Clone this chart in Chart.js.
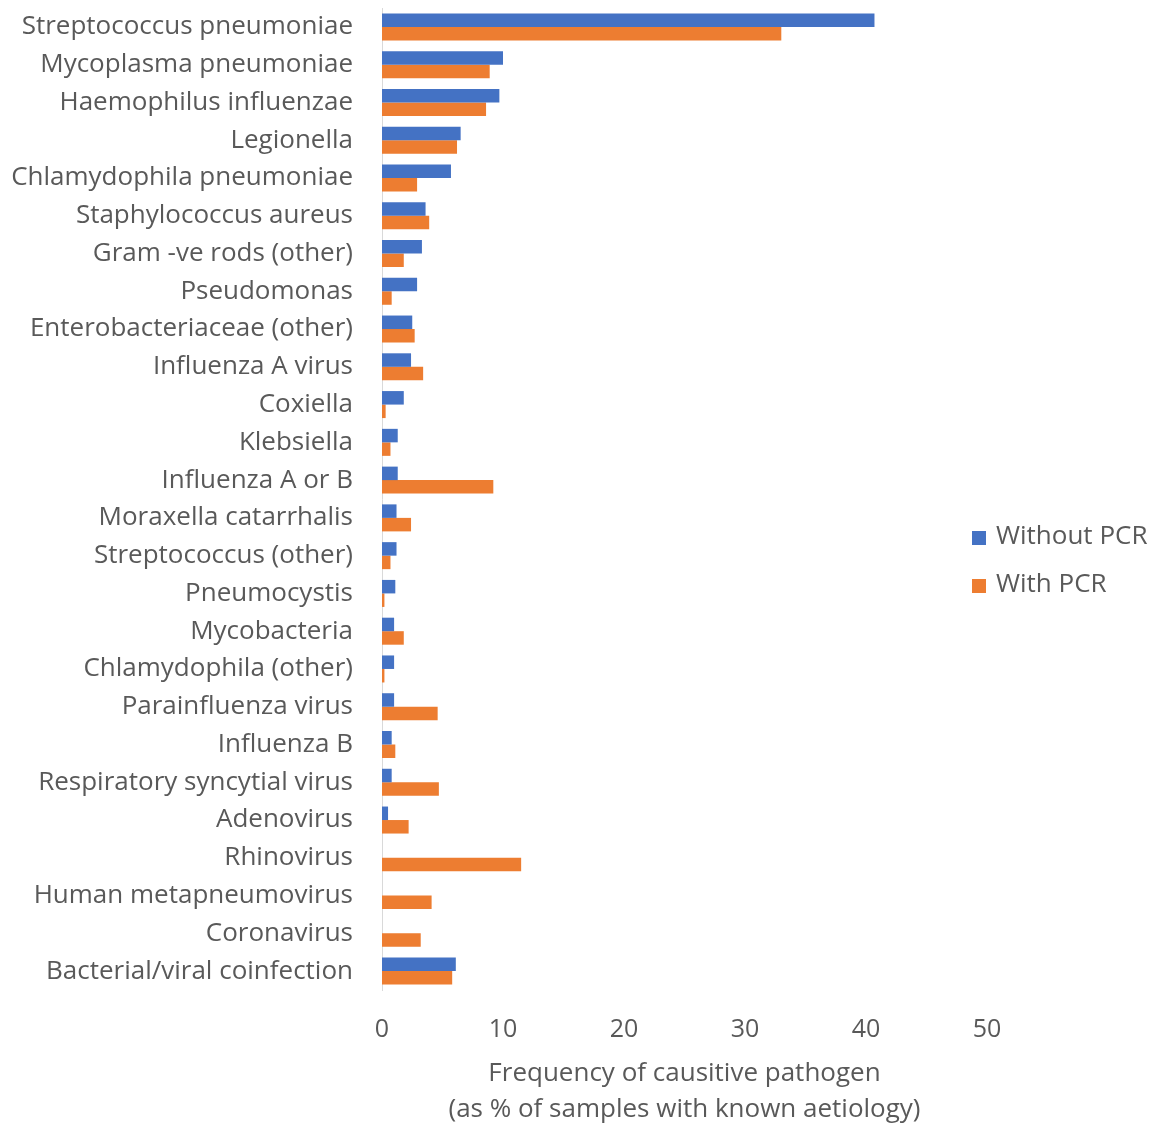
<!DOCTYPE html>
<html>
<head>
<meta charset="utf-8">
<script src="https://cdn.jsdelivr.net/npm/chart.js@4/dist/chart.umd.min.js"></script>
<style>
  html, body { margin: 0; padding: 0; background: #ffffff; }
  #wrap { position: relative; width: 1168px; height: 1124px; }
</style>
</head>
<body>
<div id="wrap"><canvas id="chart" width="1168" height="1124"></canvas></div>
<script>
// Causative pathogens, top to bottom
const pathogens = [
  'Streptococcus pneumoniae',
  'Mycoplasma pneumoniae',
  'Haemophilus influenzae',
  'Legionella',
  'Chlamydophila pneumoniae',
  'Staphylococcus aureus',
  'Gram -ve rods (other)',
  'Pseudomonas',
  'Enterobacteriaceae (other)',
  'Influenza A virus',
  'Coxiella',
  'Klebsiella',
  'Influenza A or B',
  'Moraxella catarrhalis',
  'Streptococcus (other)',
  'Pneumocystis',
  'Mycobacteria',
  'Chlamydophila (other)',
  'Parainfluenza virus',
  'Influenza B',
  'Respiratory syncytial virus',
  'Adenovirus',
  'Rhinovirus',
  'Human metapneumovirus',
  'Coronavirus',
  'Bacterial/viral coinfection'
];

// Frequency (% of samples with known aetiology)
const withoutPCR = [40.7, 10.0, 9.7, 6.5, 5.7, 3.6, 3.3, 2.9, 2.5, 2.4, 1.8, 1.3, 1.3, 1.2, 1.2, 1.1, 1.0, 1.0, 1.0, 0.8, 0.8, 0.5, 0, 0, 0, 6.1];
const withPCR    = [33.0, 8.9, 8.6, 6.2, 2.9, 3.9, 1.8, 0.8, 2.7, 3.4, 0.3, 0.7, 9.2, 2.4, 0.7, 0.2, 1.8, 0.2, 4.6, 1.1, 4.7, 2.2, 11.5, 4.1, 3.2, 5.8];

const seriesNames = ['Without PCR', 'With PCR'];
const seriesColors = ['#4472C4', '#ED7D31'];

const xTicks = [0, 10, 20, 30, 40, 50];
const xTitle = ['Frequency of causitive pathogen', '(as % of samples with known aetiology)'];

const FONT = '"Open Sans", Lato, sans-serif';
const FONT_SIZE = 26;
const TICK_SIZE = 25;
const TEXT = '#595959';

// Legend drawn to the right of the plot
const sideLegend = {
  id: 'sideLegend',
  afterDraw(chart) {
    const { ctx, chartArea } = chart;
    const midY = (chartArea.top + chartArea.bottom) / 2 + 62;
    const x = chartArea.right - 15;
    const rowGap = 48;
    const box = 14;
    ctx.save();
    ctx.font = FONT_SIZE + 'px ' + FONT;
    ctx.textBaseline = 'middle';
    ctx.textAlign = 'left';
    seriesNames.forEach((name, i) => {
      const y = midY + (i - 0.5) * rowGap;
      ctx.fillStyle = seriesColors[i];
      ctx.fillRect(x, y - box / 2 + 1, box, box);
      ctx.fillStyle = TEXT;
      ctx.fillText(name, x + box + 10, y);
    });
    ctx.restore();
  }
};

new Chart(document.getElementById('chart'), {
  type: 'bar',
  data: {
    labels: pathogens,
    datasets: [
      { label: seriesNames[0], data: withoutPCR, backgroundColor: seriesColors[0] },
      { label: seriesNames[1], data: withPCR, backgroundColor: seriesColors[1] }
    ]
  },
  options: {
    indexAxis: 'y',
    responsive: false,
    animation: false,
    devicePixelRatio: 1,
    categoryPercentage: 0.715,
    barPercentage: 1.0,
    layout: { padding: { top: 8, right: 181, left: 0, bottom: 0 } },
    plugins: {
      legend: { display: false },
      tooltip: { enabled: false }
    },
    scales: {
      y: {
        grid: { display: false, drawTicks: false },
        border: { display: true, color: '#D9D9D9', width: 1 },
        ticks: { color: TEXT, font: { family: FONT, size: FONT_SIZE }, padding: 29, autoSkip: false },
        afterFit(scale) {
          scale.width = 382;
          scale.paddingTop = 0;
          scale.paddingBottom = 0;
        }
      },
      x: {
        min: 0,
        max: 50,
        afterBuildTicks(scale) { scale.ticks = xTicks.map(v => ({ value: v })); },
        grid: { display: false, drawTicks: false },
        border: { display: false },
        ticks: { color: TEXT, font: { family: FONT, size: TICK_SIZE }, padding: 25, maxRotation: 0 },
        title: {
          display: true,
          text: xTitle,
          color: TEXT,
          font: { family: FONT, size: FONT_SIZE, lineHeight: 36 / FONT_SIZE },
          padding: { top: 0, bottom: -4 }
        },
        afterFit(scale) { scale.height = 134; }
      }
    }
  },
  plugins: [sideLegend]
});
</script>
</body>
</html>
